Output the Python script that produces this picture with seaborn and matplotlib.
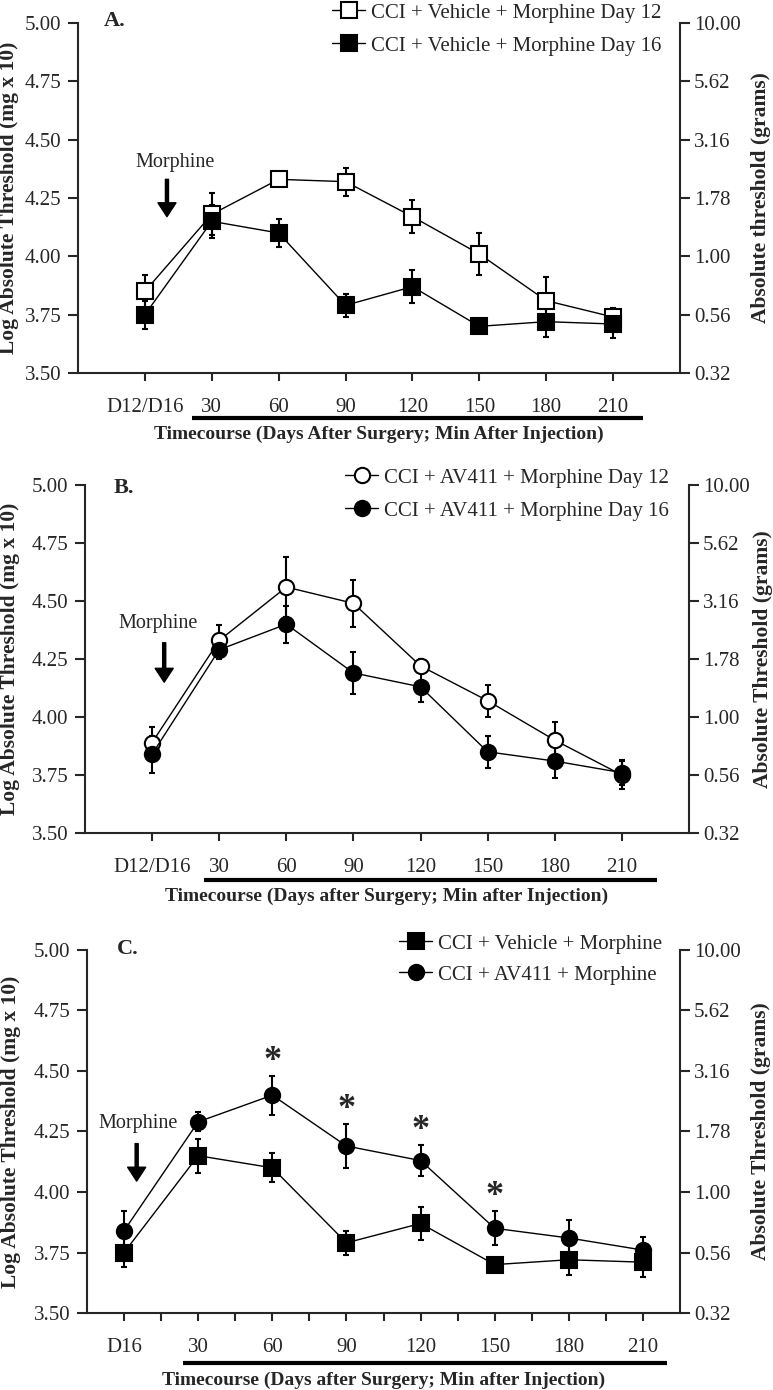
import numpy as np
import seaborn as sns
import matplotlib.pyplot as plt
import matplotlib.transforms as mtransforms
from matplotlib.lines import Line2D

# tick labels
labels_ab = ["D12/D16", "30", "60", "90", "120", "150", "180", "210"]
labels_c = ["D16", "30", "60", "90", "120", "150", "180", "210"]
left_ticks = [3.50, 3.75, 4.00, 4.25, 4.50, 4.75, 5.00]
right_ticks = ["0.32", "0.56", "1.00", "1.78", "3.16", "5.62", "10.00"]

# CCI + Vehicle + Morphine
veh_d12 = [3.85, 4.18, 4.33, 4.32, 4.17, 4.01, 3.81, 3.74]
veh_d12_err = [0.07, 0.09, 0.03, 0.06, 0.07, 0.09, 0.10, 0.04]
veh_d16 = [3.75, 4.15, 4.10, 3.79, 3.87, 3.70, 3.72, 3.71]
veh_d16_err = [0.06, 0.07, 0.06, 0.05, 0.07, 0.02, 0.065, 0.06]

# CCI + AV411 + Morphine
av_d12 = [3.89, 4.33, 4.56, 4.49, 4.22, 4.07, 3.90, 3.75]
av_d12_err = [0.065, 0.065, 0.13, 0.10, 0.03, 0.07, 0.08, 0.06]
av_d16 = [3.84, 4.29, 4.40, 4.19, 4.13, 3.85, 3.81, 3.76]
av_d16_err = [0.08, 0.04, 0.08, 0.09, 0.065, 0.07, 0.075, 0.055]

# significance marks in panel C
sig_c = [False, False, True, True, True, True, False, False]

sns.set_style("ticks")
plt.rcParams["font.family"] = ["Liberation Serif", "DejaVu Serif"]
plt.rcParams["axes.linewidth"] = 1.5

W, H = 773, 1390
fig = plt.figure(figsize=(W / 100, H / 100), dpi=100)


def px_rect(left, top, right, bottom):
    return [left / W, 1 - bottom / H, (right - left) / W, (bottom - top) / H]


def draw_panel(rect, xpos, xlim, xlabels, series, letter, letter_xy, xlabel,
               xlabelpad, rlabel, underline, morph_txt, morph_arrow, leg_anchor,
               ylab_x, rylab_x, half_ticks=False):
    ax = fig.add_axes(rect)
    for vals, errs, marker, face, name in series:
        ax.errorbar(xpos, vals, yerr=errs, fmt="none", ecolor="black",
                    elinewidth=1.5, capsize=2.5, capthick=1.5, zorder=2)
    for vals, errs, marker, face, name in series:
        sns.lineplot(x=xpos, y=vals, ax=ax, color="black", marker=marker,
                     markersize=11, markerfacecolor=face,
                     markeredgecolor="black", markeredgewidth=1.5,
                     linewidth=1.0, zorder=3)

    ax.set_xlim(*xlim)
    ax.set_ylim(3.5, 5.0)
    ax.set_xticks(xpos)
    ax.set_xticklabels(xlabels)
    if half_ticks:
        ax.set_xticks(np.asarray(xpos)[:-1] + 0.5, minor=True)
        ax.tick_params(axis="x", which="minor", direction="out", length=6, width=1.5)
    ax.set_yticks(left_ticks)
    ax.set_yticklabels([f"{t:.2f}" for t in left_ticks])
    ax.tick_params(axis="x", direction="out", length=6, width=1.5,
                   labelsize=15, pad=12)
    ax.tick_params(axis="y", direction="out", length=7, width=1.5,
                   labelsize=15, pad=5)
    ax.spines["top"].set_visible(False)
    ax.spines["right"].set_visible(False)

    ax.set_xlabel(xlabel, fontsize=14, fontweight="bold", labelpad=xlabelpad)
    ax.set_ylabel("Log Absolute Threshold (mg x 10)", fontsize=15.5,
                  fontweight="bold")
    ax.yaxis.set_label_coords(ylab_x, 0.5)

    ax2 = ax.twinx()
    ax2.set_ylim(3.5, 5.0)
    ax2.set_yticks(left_ticks)
    ax2.set_yticklabels(right_ticks)
    ax2.tick_params(axis="y", direction="out", length=7, width=1.5,
                    labelsize=15, pad=3)
    for s in ("top", "left", "bottom"):
        ax2.spines[s].set_visible(False)
    ax2.set_ylabel(rlabel, fontsize=15.5, fontweight="bold")
    ax2.yaxis.set_label_coords(rylab_x, 0.5)

    # underline below the timecourse tick labels
    tr = mtransforms.blended_transform_factory(ax.transData, ax.transAxes)
    ax.plot([underline[0], underline[1]], [underline[2]] * 2, transform=tr,
            color="black", lw=3, clip_on=False, solid_capstyle="butt")

    ax.text(letter_xy[0], letter_xy[1], letter, transform=ax.transAxes,
            fontsize=16, fontweight="bold", ha="center", va="center")

    ax.text(morph_txt[0], morph_txt[1], "Morphine", fontsize=14.5,
            ha="center", va="center")
    ax.annotate("", xy=(morph_arrow[0], morph_arrow[2]),
                xytext=(morph_arrow[0], morph_arrow[1]),
                arrowprops=dict(width=2.2, headwidth=13, headlength=10,
                                color="black", shrink=0))

    handles = [Line2D([], [], color="black", marker=m, markersize=11,
                      markerfacecolor=f, markeredgecolor="black",
                      markeredgewidth=1.5, lw=1.0)
               for _, _, m, f, _ in series]
    fig.legend(handles, [s[4] for s in series], loc="upper left",
               bbox_to_anchor=(leg_anchor[0] / W, 1 - leg_anchor[1] / H),
               frameon=False, fontsize=15, handlelength=1.6,
               handletextpad=0.25, labelspacing=leg_anchor[2], borderpad=0,
               borderaxespad=0)
    return ax


x_ab = np.arange(1, 9)
x_c = np.arange(0, 8)

# Panel A
draw_panel(px_rect(78, 23, 680, 373), x_ab, (0, 9), labels_ab,
           [(veh_d12, veh_d12_err, "s", "white", "CCI + Vehicle + Morphine Day 12"),
            (veh_d16, veh_d16_err, "s", "black", "CCI + Vehicle + Morphine Day 16")],
           "A.", (0.061, 1.006),
           "Timecourse (Days After Surgery; Min After Injection)", 6,
           "Absolute threshold (grams)", (1.70, 8.45, -0.129),
           (1.45, 4.40), (1.33, 4.33, 4.17), (332, 3, 0.65), -0.098, 1.118)

# Panel B
draw_panel(px_rect(85, 485, 689, 833), x_ab, (0, 9), labels_ab,
           [(av_d12, av_d12_err, "o", "white", "CCI + AV411 + Morphine Day 12"),
            (av_d16, av_d16_err, "o", "black", "CCI + AV411 + Morphine Day 16")],
           "B.", (0.0645, 0.991),
           "Timecourse (Days after Surgery; Min after Injection)", 7.5,
           "Absolute Threshold (grams)", (1.77, 8.53, -0.135),
           (1.09, 4.405), (1.18, 4.32, 4.15), (345, 468, 0.65), -0.107, 1.106)

# Panel C
axc = draw_panel(px_rect(87, 950, 680, 1313), x_c, (-0.5, 7.5), labels_c,
                 [(veh_d16, veh_d16_err, "s", "black", "CCI + Vehicle + Morphine"),
                  (av_d16, av_d16_err, "o", "black", "CCI + AV411 + Morphine")],
                 "C.", (0.069, 1.003),
                 "Timecourse (Days after Surgery; Min after Injection)", 10.5,
                 "Absolute Threshold (grams)", (0.80, 7.33, -0.138),
                 (0.19, 4.285), (0.17, 4.20, 4.045), (399, 934, 0.55), -0.112, 1.12,
                 half_ticks=True)

for xi, v, e, s in zip(x_c, av_d16, av_d16_err, sig_c):
    if s:
        axc.text(xi, v + e + 0.06, "*", fontsize=26, fontweight="bold",
                 ha="center", va="center")

fig.savefig("out.png", dpi=100)
